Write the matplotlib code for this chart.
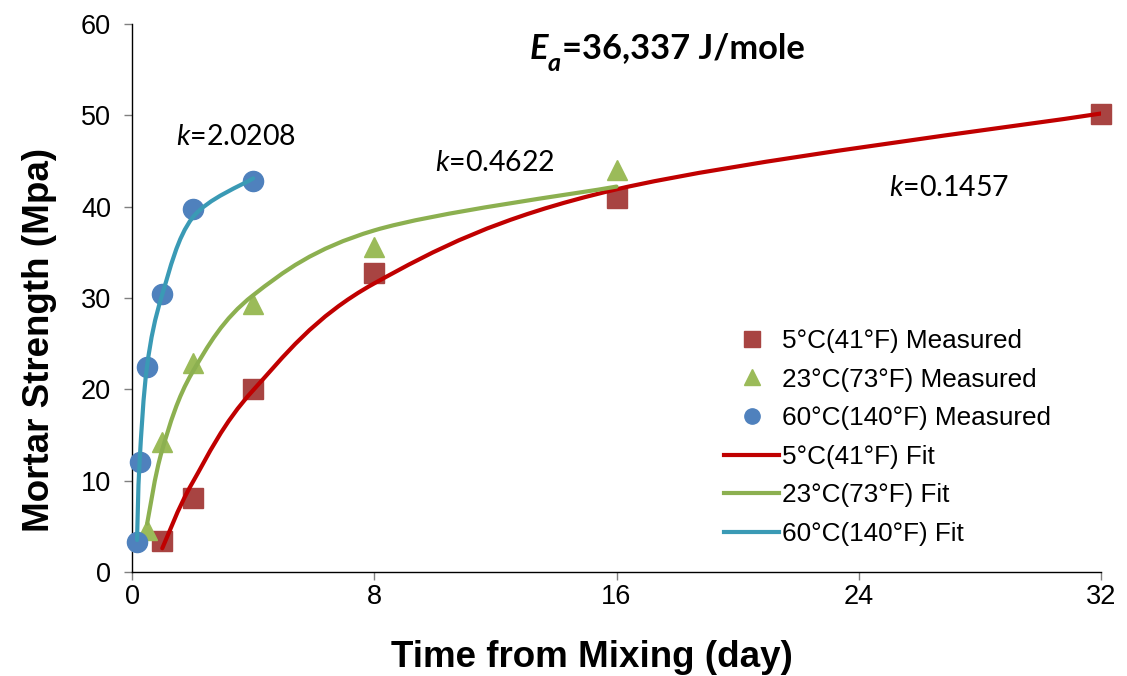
import numpy as np
import matplotlib
matplotlib.use("Agg")
import matplotlib.pyplot as plt
from matplotlib.path import Path
from matplotlib.patches import PathPatch
from matplotlib.lines import Line2D

plt.rcParams['font.family'] = ['Liberation Sans', 'DejaVu Sans']
plt.rcParams['mathtext.fontset'] = 'custom'
plt.rcParams['mathtext.it'] = 'Lato:italic'
plt.rcParams['mathtext.rm'] = 'Lato'

# measured mortar strength (MPa) vs age (days)
t_5c = [1, 2, 4, 8, 16, 32]
s_5c = [3.4, 8.1, 20.0, 32.7, 40.9, 50.2]
t_23c = [0.5, 1, 2, 4, 8, 16]
s_23c = [4.6, 14.2, 22.9, 29.3, 35.6, 44.0]
t_60c = [0.167, 0.25, 0.5, 1, 2, 4]
s_60c = [3.3, 12.0, 22.5, 30.4, 39.7, 42.8]

# fitted strength at the same ages
fit_5c = [2.6, 9.8, 19.9, 31.6, 41.9, 50.2]
fit_23c = [5.3, 13.4, 21.9, 30.3, 37.4, 42.2]
fit_60c = [3.5, 12.0, 22.6, 30.4, 38.8, 43.1]

k_values = ['2.0208', '0.4622', '0.1457']
k_pos = [(3.43, 47.6), (12.0, 44.8), (27.0, 42.0)]

labels_meas = ['5°C(41°F) Measured', '23°C(73°F) Measured', '60°C(140°F) Measured']
labels_fit = ['5°C(41°F) Fit', '23°C(73°F) Fit', '60°C(140°F) Fit']


def smooth_path(ax, xs, ys):
    # Catmull-Rom style bezier through the points, built in screen space
    pts = ax.transData.transform(np.column_stack([xs, ys]))
    n = len(pts)
    verts = [pts[0]]
    codes = [Path.MOVETO]
    for i in range(n - 1):
        p0 = pts[i - 1] if i > 0 else pts[i]
        p1 = pts[i]
        p2 = pts[i + 1]
        p3 = pts[i + 2] if i + 2 < n else pts[i + 1]
        c1 = p1 + (p2 - p0) / 6.0
        c2 = p2 - (p3 - p1) / 6.0
        verts += [c1, c2, p2]
        codes += [Path.CURVE4] * 3
    verts = ax.transData.inverted().transform(np.array(verts))
    return Path(verts, codes)


fig = plt.figure(figsize=(11.27, 6.76), dpi=100)
ax = fig.add_axes([132 / 1127, 1 - 572 / 676, (1101 - 132) / 1127, (572 - 24) / 676])
ax.set_xlim(0, 32)
ax.set_ylim(0, 60)

c_sq = '#A84442'
c_tri = '#9BBB59'
c_circ = '#4F81BD'
c_red = '#C00000'
c_green = '#8CB050'
c_blue = '#3A9AB5'

ax.plot(t_5c, s_5c, 's', ms=14.5, color=c_sq, mec=c_sq, zorder=3, clip_on=False)
ax.plot(t_23c, s_23c, '^', ms=15, color=c_tri, mec=c_tri, zorder=3, clip_on=False)
ax.plot(t_60c, s_60c, 'o', ms=14.5, color=c_circ, mec=c_circ, zorder=3, clip_on=False)

for ts, fs, c in [(t_5c, fit_5c, c_red), (t_23c, fit_23c, c_green), (t_60c, fit_60c, c_blue)]:
    ax.add_patch(PathPatch(smooth_path(ax, ts, fs), fill=False, edgecolor=c,
                           lw=3.0, capstyle='round', zorder=4))

for kv, (kx, ky) in zip(k_values, k_pos):
    ax.text(kx, ky, '$k$=' + kv, fontsize=20.5, family='Lato', ha='center', va='center')

# activation energy label: E with subscript a, then the value
t1 = ax.text(0.410, 0.937, 'E', transform=ax.transAxes, fontsize=24.8, family='Lato',
             fontweight='bold', fontstyle='italic', ha='left', va='baseline')
t2 = ax.annotate('a', xy=(1, 0), xycoords=t1, xytext=(0, -5), textcoords='offset points',
                 fontsize=18, family='Lato', fontweight='bold', fontstyle='italic',
                 ha='left', va='baseline')
ax.annotate('=36,337 J/mole', xy=(1, 0), xycoords=(t2, t1), xytext=(1, 0),
            textcoords='offset points', fontsize=24.8, family='Lato', fontweight='bold',
            ha='left', va='bottom')

for s in ['top', 'right']:
    ax.spines[s].set_visible(False)
for s in ['left', 'bottom']:
    ax.spines[s].set_linewidth(1.0)
    ax.spines[s].set_color('black')

ax.set_xticks([0, 8, 16, 24, 32])
ax.set_yticks(range(0, 61, 10))
ax.tick_params(axis='both', direction='out', length=6, width=1, color='#808080',
               labelsize=19.5)
ax.tick_params(axis='y', pad=9)
ax.tick_params(axis='x', pad=3)

ax.set_xlabel('Time from Mixing (day)', fontsize=26.5, fontweight='bold')
ax.set_ylabel('Mortar Strength (Mpa)', fontsize=26.5, fontweight='bold')
ax.xaxis.set_label_coords((592 - 132) / 969, -(640 - 572) / 548)
ax.yaxis.set_label_coords(-(132 - 57) / 969, (572 - 340) / 548)

handles = [
    Line2D([], [], ls='none', marker='s', ms=11, color=c_sq),
    Line2D([], [], ls='none', marker='^', ms=11, color=c_tri),
    Line2D([], [], ls='none', marker='o', ms=11, color=c_circ),
    Line2D([], [], color=c_red, lw=3),
    Line2D([], [], color=c_green, lw=3),
    Line2D([], [], color=c_blue, lw=3),
]
ax.legend(handles, labels_meas + labels_fit, loc='upper left',
          bbox_to_anchor=(724 / 1127, 1 - 329 / 676), bbox_transform=fig.transFigure,
          frameon=False, fontsize=18.8, handlelength=2.12, handletextpad=0.12,
          labelspacing=0.56, borderpad=0, borderaxespad=0)

fig.savefig('out.png', dpi=100)
